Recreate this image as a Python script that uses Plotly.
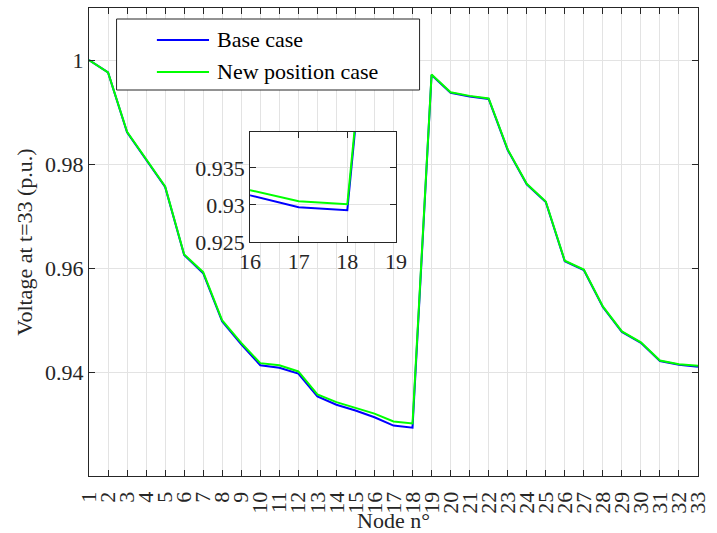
import plotly.graph_objects as go

# Bus voltage profile at t=33 for the 33-node feeder
nodes = list(range(1, 34))

base_case = [
    1.0000, 0.9976, 0.9861, 0.9808, 0.9756, 0.9625, 0.9590, 0.9497, 0.9453,
    0.9413, 0.9408, 0.9397, 0.9353, 0.9337, 0.9326, 0.9313, 0.9297, 0.9293,
    0.9971, 0.9937, 0.9930, 0.9925, 0.9827, 0.9761, 0.9727, 0.9613, 0.9596,
    0.9525, 0.9477, 0.9456, 0.9421, 0.9414, 0.9410,
]
new_position_case = [
    1.0000, 0.9976, 0.9862, 0.9809, 0.9757, 0.9626, 0.9592, 0.9499, 0.9456,
    0.9417, 0.9413, 0.9401, 0.9357, 0.9342, 0.9331, 0.9320, 0.9305, 0.9301,
    0.9972, 0.9938, 0.9931, 0.9926, 0.9828, 0.9762, 0.9728, 0.9614, 0.9597,
    0.9526, 0.9478, 0.9457, 0.9422, 0.9415, 0.9412,
]

y_ticks = [0.94, 0.96, 0.98, 1.0]
y_tick_text = ["0.94", "0.96", "0.98", "1"]
inset_x_ticks = [16, 17, 18, 19]
inset_y_ticks = [0.925, 0.93, 0.935]
inset_y_tick_text = ["0.925", "0.93", "0.935"]

series_names = ["Base case", "New position case"]
series_colors = ["#0000ff", "#00ff00"]

FONT = "Liberation Serif"
TXT = "#262626"
AXIS = "#262626"
GRID = "#e3e3e3"

fig = go.Figure()

for vals, name, col in zip([base_case, new_position_case], series_names, series_colors):
    fig.add_trace(go.Scatter(x=nodes, y=vals, mode="lines", name=name,
                             line=dict(color=col, width=2), showlegend=False))
for vals, name, col in zip([base_case, new_position_case], series_names, series_colors):
    # zoomed inset around nodes 16-19
    fig.add_trace(go.Scatter(x=nodes, y=vals, mode="lines", name=name,
                             line=dict(color=col, width=2), showlegend=False,
                             xaxis="x2", yaxis="y2"))


def axis_style(**kw):
    d = dict(
        showline=True, linecolor=AXIS, linewidth=1, mirror="ticks",
        ticks="inside", ticklen=6, tickcolor=AXIS, tickwidth=1,
        showgrid=True, gridcolor=GRID, gridwidth=1, zeroline=False,
        tickfont=dict(family=FONT, size=22, color=TXT),
    )
    d.update(kw)
    return d


fig.update_layout(
    template="plotly_white",
    width=717, height=533,
    margin=dict(l=89, r=9, t=8, b=57),
    showlegend=False,
    xaxis=axis_style(
        range=[1, 33], tickmode="array", tickvals=nodes,
        ticktext=[str(n) for n in nodes], tickangle=-90, ticklabelstandoff=6,
        automargin=False,
        title=dict(text="Node n°", font=dict(family=FONT, size=22, color=TXT), standoff=0),
    ),
    yaxis=axis_style(
        range=[0.92, 1.01], tickmode="array", tickvals=y_ticks,
        ticktext=y_tick_text, automargin=False,
        title=dict(text="Voltage at t=33 (p.u.)", font=dict(family=FONT, size=22, color=TXT), standoff=6),
    ),
    xaxis2=axis_style(
        range=[16, 19], tickmode="array", tickvals=inset_x_ticks,
        anchor="y2", domain=[0.2645, 0.504],
    ),
    yaxis2=axis_style(
        range=[0.925, 0.9399], tickmode="array", tickvals=inset_y_ticks,
        ticktext=inset_y_tick_text, anchor="x2", domain=[0.5, 0.7357],
    ),
)

# Legend box drawn in paper coordinates
def px_x(p):
    return (p - 89) / 619.0

def px_y(p):
    return (476 - p) / 468.0

fig.add_shape(type="rect", xref="paper", yref="paper",
              x0=px_x(117), x1=px_x(425), y0=px_y(90), y1=px_y(19),
              line=dict(color=AXIS, width=1), fillcolor="white", layer="above")
for i, (name, col) in enumerate(zip(series_names, series_colors)):
    yy = px_y(40 + 32 * i)
    fig.add_shape(type="line", xref="paper", yref="paper",
                  x0=px_x(158), x1=px_x(211), y0=yy, y1=yy,
                  line=dict(color=col, width=2), layer="above")
    fig.add_annotation(xref="paper", yref="paper", x=px_x(217), y=yy,
                       text=name, showarrow=False, xanchor="left", yanchor="middle",
                       font=dict(family=FONT, size=22, color="black"))

fig.write_html("out.html")
